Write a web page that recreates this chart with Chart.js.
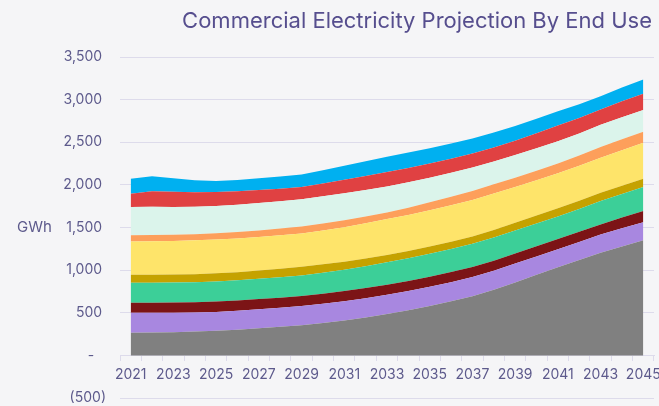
<!DOCTYPE html>
<html><head><meta charset="utf-8">
<script src="https://cdn.jsdelivr.net/npm/chart.js@4"></script>
<style>html,body{margin:0;padding:0;background:#f5f5f7;}canvas{display:block}</style>
</head><body>
<canvas id="c" width="659" height="406"></canvas>
<script>
const titleText = 'Commercial Electricity Projection By End Use';
const yAxisTitle = 'GWh';
const years = ['2021','2022','2023','2024','2025','2026','2027','2028','2029','2030','2031','2032','2033','2034','2035','2036','2037','2038','2039','2040','2041','2042','2043','2044','2045'];
const seriesNames = ['Other','Space Heating','Water Heating','Space Cooling','Cooking','Lighting','Office Equipment','Ventilation','Refrigeration','Computers'];
const seriesColors = ['#808080','#a887e0','#7c1416','#3ccf98','#c5a200','#fee46a','#fd9f5b','#dbf4eb','#e04142','#00b0f0'];

const other        = [266,268,272,280,290,302,318,335,352,380,410,445,485,530,580,635,695,770,855,945,1035,1120,1204,1278,1349];
const spaceHeating = [234,232,228,222,218,220,222,224,226,226,226,226,226,225,225,224,224,223,222,216,210,210,214,214,214];
const waterHeating = [117,118,120,122,125,122,120,118,118,118,118,118,118,118,118,118,117,117,118,120,121,120,118,124,130];
const spaceCooling = [234,234,234,235,235,236,238,240,242,246,250,256,262,265,268,270,272,273,270,266,262,266,274,278,281];
const cooking      = [94,94,94,94,94,96,98,100,102,98,94,90,86,86,86,87,87,87,90,94,98,97,97,97,98];
const lighting     = [390,392,394,396,398,396,394,392,391,398,406,414,422,424,426,428,429,429,420,414,411,411,411,416,422];
const officeEquip  = [74,74,73,72,72,74,76,78,80,80,80,79,78,84,92,98,104,108,110,112,114,120,126,129,130];
const ventilation  = [332,330,326,322,320,320,320,321,321,320,318,312,305,298,290,282,275,268,264,262,262,260,262,258,253];
const refrigeration= [156,184,178,170,164,160,154,148,142,150,158,164,168,168,166,165,164,164,170,178,184,180,178,186,192];
const computers    = [176,175,160,140,129,132,138,143,148,156,164,174,180,181,180,178,176,176,172,170,168,162,156,162,168];

const seriesValues = [other,spaceHeating,waterHeating,spaceCooling,cooking,lighting,officeEquip,ventilation,refrigeration,computers];

const labelColor = '#5d5a8c';
const gridColor = '#dddbeb';
const fontFamily = 'Inter, "Open Sans", sans-serif';

function fmtY(v){
  if (v === 0) return '-   ';
  if (v < 0) return '(' + Math.abs(v).toLocaleString('en-US') + ')';
  return v.toLocaleString('en-US') + ' ';
}

const textPlugin = {
  id: 'texts',
  afterDraw(chart){
    const ctx = chart.ctx;
    ctx.save();
    ctx.fillStyle = '#564e8e';
    ctx.font = '22px ' + fontFamily;
    ctx.textAlign = 'right';
    ctx.textBaseline = 'middle';
    ctx.fillText(titleText, 652, 21);
    ctx.fillStyle = labelColor;
    ctx.font = '15px ' + fontFamily;
    ctx.textAlign = 'left';
    ctx.fillText(yAxisTitle, 17, chart.scales.y.getPixelForValue(1500));
    ctx.restore();
  }
};

new Chart(document.getElementById('c'), {
  type: 'line',
  data: {
    labels: years,
    datasets: seriesValues.map((vals, i) => ({
      label: seriesNames[i],
      data: vals,
      backgroundColor: seriesColors[i],
      borderColor: seriesColors[i],
      borderWidth: 0,
      pointRadius: 0,
      fill: i === 0 ? 'origin' : '-1',
      tension: 0
    }))
  },
  options: {
    responsive: false,
    animation: false,
    layout: { padding: { left: 0, right: 5, top: 57, bottom: 8 } },
    plugins: { legend: { display: false }, title: { display: false }, tooltip: { enabled: false } },
    scales: {
      x: {
        type: 'category',
        position: { y: 0 },
        offset: true,
        afterFit(scale){ scale.paddingLeft = 0; scale.paddingRight = 0; scale.paddingTop = 0; scale.paddingBottom = 0; },
        grid: { offset: true, drawOnChartArea: false, drawTicks: true, tickLength: 5, color: gridColor },
        border: { display: true, color: gridColor },
        ticks: {
          autoSkip: false, maxRotation: 0, padding: 6,
          color: labelColor, font: { family: fontFamily, size: 14 },
          callback: function(v, i){ return i % 2 === 0 ? this.getLabelForValue(v) : ''; }
        }
      },
      y: {
        stacked: true,
        min: -500, max: 3500,
        afterFit(scale){ scale.width = 120; scale.paddingTop = 0; scale.paddingBottom = 0; },
        grid: { color: gridColor, drawTicks: false },
        border: { display: false },
        ticks: { stepSize: 500, padding: 14, color: labelColor, font: { family: fontFamily, size: 14 }, callback: v => fmtY(v) }
      }
    }
  },
  plugins: [textPlugin]
});
</script>
</body></html>
